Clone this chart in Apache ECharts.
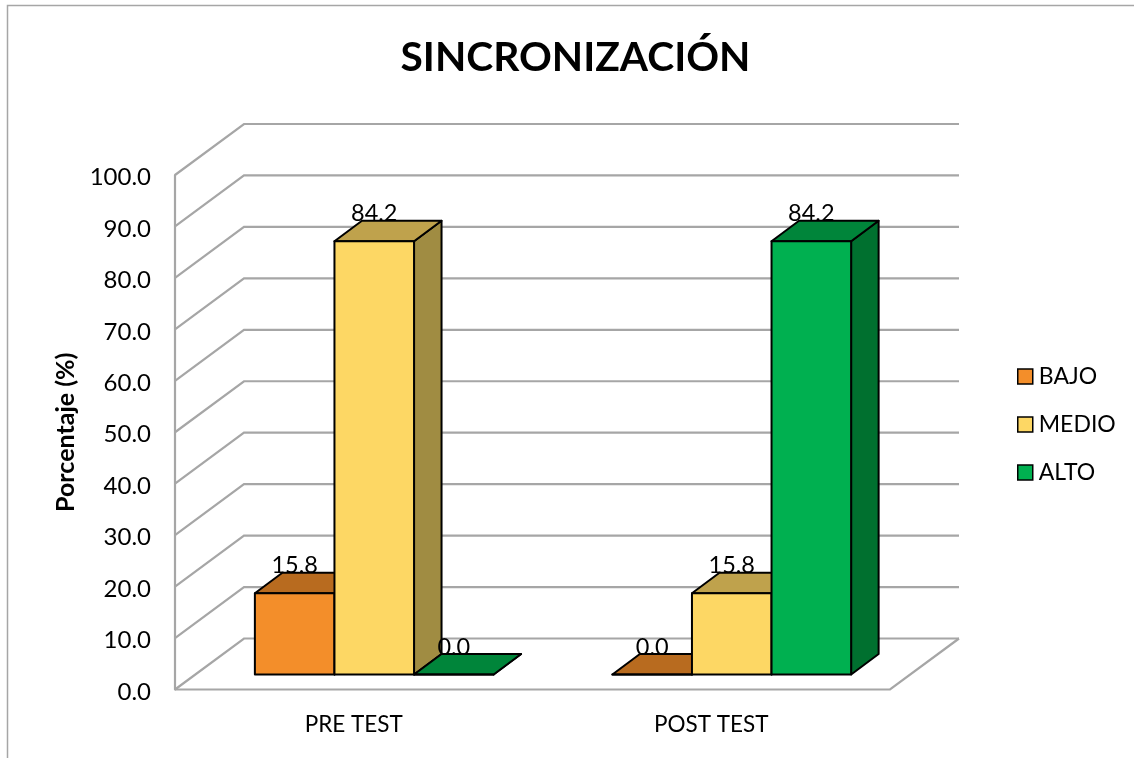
<!DOCTYPE html>
<html>
<head>
<meta charset="utf-8">
<style>html,body{margin:0;padding:0;background:#fff}#c{width:1134px;height:758px}</style>
<script src="https://cdn.jsdelivr.net/npm/echarts@6/dist/echarts.min.js"></script>
</head>
<body>
<div id="c"></div>
<script>
const titleText = 'SINCRONIZACIÓN';
const yAxisName = 'Porcentaje (%)';
const categories = ['PRE TEST', 'POST TEST'];
const yTicks = [0, 10, 20, 30, 40, 50, 60, 70, 80, 90, 100];
const bajo = [15.8, 0.0];
const medio = [84.2, 15.8];
const alto = [0.0, 84.2];
const seriesNames = ['BAJO', 'MEDIO', 'ALTO'];
const seriesValues = [bajo, medio, alto];
const frontColors = ['#F38E2A', '#FDD764', '#00B050'];
const topColors = ['#B86B1F', '#BFA24C', '#00853A'];
const sideColors = ['#9A5C1C', '#A08C42', '#00702F'];

const FONT = 'Lato, "Open Sans", sans-serif';
const WALL = [69, -51], PLANE = [20.5, -15], DEPTH = [27.5, -20.5], BAR_RATIO = 0.2226;
const GRID_COLOR = '#A6A6A6';

function wallItem(params, api) {
  const v = api.value(1);
  const p = api.coord([0, v]);
  const cs = params.coordSys;
  const x0 = cs.x, x1 = cs.x + cs.width;
  const style = { stroke: GRID_COLOR, lineWidth: 2.2, fill: null };
  const children = [{
    type: 'polyline',
    shape: { points: [[x0, p[1]], [x0 + WALL[0], p[1] + WALL[1]], [x1 + WALL[0], p[1] + WALL[1]]] },
    style
  }];
  if (v === 0) {
    children.push({
      type: 'polyline',
      shape: { points: [[x0, p[1]], [x1, p[1]], [x1 + WALL[0], p[1] + WALL[1]]] },
      style
    });
  }
  return { type: 'group', children };
}

function barRenderer(si) {
  return function (params, api) {
    const cat = api.value(0), val = api.value(1);
    const c = api.coord([cat, val]);
    const b = api.coord([cat, 0]);
    const w = api.size([1, 0])[0] * BAR_RATIO;
    const xl = c[0] + PLANE[0] + (si - 1.5) * w, xr = xl + w;
    const yt = c[1] + PLANE[1], yb = b[1] + PLANE[1];
    const dx = DEPTH[0], dy = DEPTH[1];
    const line = { stroke: '#000', lineWidth: 2, lineJoin: 'round' };
    return {
      type: 'group',
      children: [
        { type: 'polygon', shape: { points: [[xr, yt], [xr + dx, yt + dy], [xr + dx, yb + dy], [xr, yb]] },
          style: Object.assign({ fill: sideColors[si] }, line) },
        { type: 'polygon', shape: { points: [[xl, yt], [xl + dx, yt + dy], [xr + dx, yt + dy], [xr, yt]] },
          style: Object.assign({ fill: topColors[si] }, line) },
        { type: 'rect', shape: { x: xl, y: yt, width: w, height: yb - yt },
          style: Object.assign({ fill: frontColors[si] }, line) },
        { type: 'text', z2: 50, style: { text: val.toFixed(1), x: (xl + xr) / 2, y: yt - 27.5,
          align: 'center', verticalAlign: 'middle', fill: '#000', font: '23.5px ' + FONT } }
      ]
    };
  };
}

const series = [{
  type: 'custom', name: 'walls', silent: true, z: 1,
  data: yTicks.map(v => [0, v]), renderItem: wallItem, clip: false
}].concat(seriesNames.map((n, si) => ({
  type: 'custom', name: n, z: 2 + si, clip: false,
  itemStyle: { color: frontColors[si] },
  data: seriesValues[si].map((v, i) => [i, v]),
  renderItem: barRenderer(si)
})));

const chart = echarts.init(document.getElementById('c'), null, { renderer: 'canvas' });
chart.setOption({
  animation: false,
  backgroundColor: '#fff',
  title: { text: titleText, left: 570.5, top: 32, textAlign: 'center',
    textStyle: { fontFamily: FONT, fontWeight: 'bold', fontSize: 40.7, color: '#000' } },
  grid: { left: 175, top: 175, width: 715, height: 514.5 },
  legend: {
    orient: 'vertical', left: 1012, top: 360, data: seriesNames, itemWidth: 15, itemHeight: 15,
    itemGap: 25, icon: 'rect', selectedMode: false,
    itemStyle: { borderColor: '#000', borderWidth: 1.5 },
    textStyle: { fontFamily: FONT, fontSize: 23, color: '#000', padding: [0, 0, 0, 1] }
  },
  xAxis: { type: 'category', data: categories,
    axisLine: { show: false }, axisTick: { show: false }, splitLine: { show: false },
    axisLabel: { margin: 24, fontFamily: FONT, fontSize: 22.5, color: '#000' } },
  yAxis: { type: 'value', min: 0, max: 100, interval: 10,
    name: yAxisName, nameLocation: 'middle', nameGap: 96, nameRotate: 90,
    nameTextStyle: { fontFamily: FONT, fontWeight: 'bold', fontSize: 25, color: '#000' },
    axisLine: { show: true, lineStyle: { color: GRID_COLOR, width: 2.2 } },
    axisTick: { show: false }, splitLine: { show: false },
    axisLabel: { margin: 24, color: '#000', formatter: v => '{t|' + v.toFixed(1) + '}',
      rich: { t: { fontFamily: FONT, fontSize: 24, color: '#000', padding: [5, 0, 0, 0] } } } },
  graphic: [{ type: 'polyline', silent: true,
    shape: { points: [[7.5, 758], [7.5, 5.5], [1134, 5.5]] },
    style: { stroke: '#A6A6A6', lineWidth: 1.5, fill: null } }],
  series
});
</script>
</body>
</html>
